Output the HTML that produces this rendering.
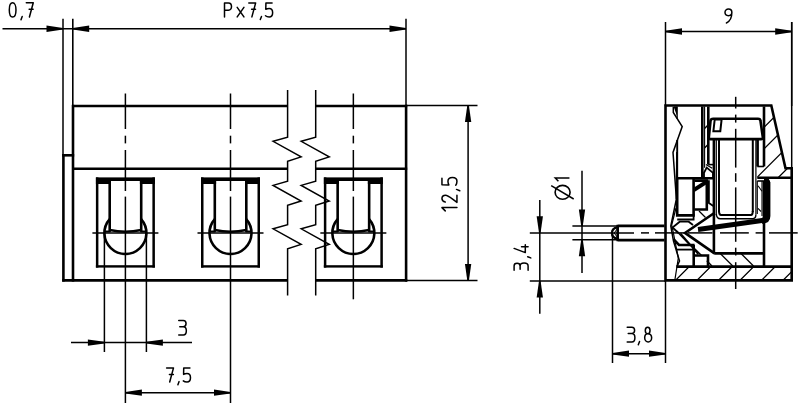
<!DOCTYPE html>
<html><head><meta charset="utf-8"><style>
html,body{margin:0;padding:0;background:#fff;width:800px;height:406px;overflow:hidden}
svg{display:block}
text{font-family:"Liberation Sans",sans-serif;fill:#000;stroke:none}
</style></head><body>
<svg width="800" height="406" viewBox="0 0 800 406" stroke="#000" stroke-linecap="butt" fill="none">
<line x1="2.5" y1="28.75" x2="406" y2="28.75" stroke-width="1.5"/>
<path d="M63.00,29.55 L46.50,31.90 L46.50,25.60 L63.00,27.95 Z" fill="#000" stroke="none"/>
<path d="M72.70,27.95 L89.20,25.60 L89.20,31.90 L72.70,29.55 Z" fill="#000" stroke="none"/>
<path d="M406.00,29.55 L389.50,31.90 L389.50,25.60 L406.00,27.95 Z" fill="#000" stroke="none"/>
<line x1="63" y1="18.75" x2="63" y2="155.3" stroke-width="1.5"/>
<line x1="72.8" y1="18.75" x2="72.8" y2="106" stroke-width="1.6"/>
<line x1="406" y1="18.75" x2="406" y2="106" stroke-width="1.5"/>
<path transform="translate(9.3,2.8000000000000007) scale(14.2)" d="M0.235,0 C0.37,0 0.47,0.2 0.47,0.5 C0.47,0.8 0.37,1 0.235,1 C0.1,1 0,0.8 0,0.5 C0,0.2 0.1,0 0.235,0 Z" stroke-width="1.5" vector-effect="non-scaling-stroke" stroke-linecap="round" stroke-linejoin="round"/>
<path transform="translate(21.0,2.8000000000000007) scale(14.2)" d="M0.085,0.97 L0,1.19" stroke-width="1.5" vector-effect="non-scaling-stroke" stroke-linecap="round" stroke-linejoin="round"/>
<path transform="translate(26.3,2.8000000000000007) scale(14.2)" d="M0,0 L0.49,0 L0.22,1 M0.2,0.46 L0.48,0.46" stroke-width="1.5" vector-effect="non-scaling-stroke" stroke-linecap="round" stroke-linejoin="round"/>
<path transform="translate(224.5,2.8999999999999986) scale(14.0)" d="M0,1 L0,0 L0.28,0 C0.43,0 0.5,0.12 0.5,0.26 C0.5,0.4 0.43,0.52 0.28,0.52 L0,0.52" stroke-width="1.5" vector-effect="non-scaling-stroke" stroke-linecap="round" stroke-linejoin="round"/>
<path transform="translate(237.2,2.8999999999999986) scale(14.0)" d="M0,0.32 L0.48,1 M0.48,0.32 L0,1" stroke-width="1.5" vector-effect="non-scaling-stroke" stroke-linecap="round" stroke-linejoin="round"/>
<path transform="translate(248.8,2.8999999999999986) scale(14.0)" d="M0,0 L0.49,0 L0.22,1 M0.2,0.46 L0.48,0.46" stroke-width="1.5" vector-effect="non-scaling-stroke" stroke-linecap="round" stroke-linejoin="round"/>
<path transform="translate(260.3,2.8999999999999986) scale(14.0)" d="M0.085,0.97 L0,1.19" stroke-width="1.5" vector-effect="non-scaling-stroke" stroke-linecap="round" stroke-linejoin="round"/>
<path transform="translate(265.5,2.8999999999999986) scale(14.0)" d="M0.47,0 L0.03,0 L0.02,0.46 C0.1,0.42 0.18,0.4 0.26,0.4 C0.42,0.4 0.51,0.52 0.51,0.7 C0.51,0.88 0.42,1 0.26,1 C0.15,1 0.06,0.97 0,0.92" stroke-width="1.5" vector-effect="non-scaling-stroke" stroke-linecap="round" stroke-linejoin="round"/>
<line x1="73" y1="106" x2="287.7" y2="106" stroke-width="2.6"/>
<line x1="315.7" y1="106" x2="407.2" y2="106" stroke-width="2.6"/>
<line x1="73" y1="168.7" x2="287.7" y2="168.7" stroke-width="2.6"/>
<line x1="315.7" y1="168.7" x2="407.2" y2="168.7" stroke-width="2.6"/>
<line x1="73" y1="104.8" x2="73" y2="281.6" stroke-width="2.6"/>
<line x1="406.1" y1="104.8" x2="406.1" y2="281.6" stroke-width="2.6"/>
<line x1="63.4" y1="154.1" x2="63.4" y2="281.6" stroke-width="2.6"/>
<line x1="62.2" y1="155.3" x2="74.2" y2="155.3" stroke-width="2.6"/>
<line x1="62.2" y1="280.4" x2="287.6" y2="280.4" stroke-width="2.6"/>
<line x1="315.6" y1="280.4" x2="407.2" y2="280.4" stroke-width="2.6"/>
<rect x="95.9" y="177.4" width="59.0" height="3.5999999999999943" fill="#000" stroke="none"/>
<rect x="95.9" y="181" width="15.099999999999994" height="3" fill="#000" stroke="none"/>
<rect x="139.9" y="181" width="15.0" height="3" fill="#000" stroke="none"/>
<rect x="95.9" y="177.4" width="2.5" height="90.20000000000002" fill="#000" stroke="none"/>
<rect x="152.4" y="177.4" width="2.5" height="90.20000000000002" fill="#000" stroke="none"/>
<rect x="95.9" y="265.2" width="59.0" height="2.400000000000034" fill="#000" stroke="none"/>
<rect x="108.4" y="181" width="2.5999999999999943" height="50.80000000000001" fill="#000" stroke="none"/>
<rect x="139.9" y="181" width="2.5999999999999943" height="50.80000000000001" fill="#000" stroke="none"/>
<path d="M109.7,230.1 Q125.4,233.3 141.20000000000002,230.1" stroke-width="2.6" fill="none" stroke="#000"/>
<path d="M104.5,231.6 L110.4,231.6 M140.4,231.6 L146.3,231.6" stroke-width="2.0" fill="none" stroke="#000"/>
<path d="M109.7,219.05 A21,21 0 1 0 141.1,219.05" stroke-width="2.6" fill="none" stroke="#000"/>
<line x1="92.4" y1="233" x2="158.4" y2="233" stroke-width="1.5"/>
<line x1="125.4" y1="93.5" x2="125.4" y2="129" stroke-width="1.5"/>
<line x1="125.4" y1="135.7" x2="125.4" y2="143.4" stroke-width="1.5"/>
<line x1="125.4" y1="150" x2="125.4" y2="191" stroke-width="1.5"/>
<rect x="201.0" y="177.4" width="59.0" height="3.5999999999999943" fill="#000" stroke="none"/>
<rect x="201.0" y="181" width="15.099999999999994" height="3" fill="#000" stroke="none"/>
<rect x="245.0" y="181" width="15.0" height="3" fill="#000" stroke="none"/>
<rect x="201.0" y="177.4" width="2.5" height="90.20000000000002" fill="#000" stroke="none"/>
<rect x="257.5" y="177.4" width="2.5" height="90.20000000000002" fill="#000" stroke="none"/>
<rect x="201.0" y="265.2" width="59.0" height="2.400000000000034" fill="#000" stroke="none"/>
<rect x="213.5" y="181" width="2.5999999999999943" height="50.80000000000001" fill="#000" stroke="none"/>
<rect x="245.0" y="181" width="2.5999999999999943" height="50.80000000000001" fill="#000" stroke="none"/>
<path d="M214.8,230.1 Q230.5,233.3 246.3,230.1" stroke-width="2.6" fill="none" stroke="#000"/>
<path d="M209.6,231.6 L215.5,231.6 M245.5,231.6 L251.4,231.6" stroke-width="2.0" fill="none" stroke="#000"/>
<path d="M214.8,219.05 A21,21 0 1 0 246.2,219.05" stroke-width="2.6" fill="none" stroke="#000"/>
<line x1="197.5" y1="233" x2="263.5" y2="233" stroke-width="1.5"/>
<line x1="230.5" y1="93.5" x2="230.5" y2="129" stroke-width="1.5"/>
<line x1="230.5" y1="135.7" x2="230.5" y2="143.4" stroke-width="1.5"/>
<line x1="230.5" y1="150" x2="230.5" y2="191" stroke-width="1.5"/>
<rect x="323.85" y="177.4" width="59.0" height="3.5999999999999943" fill="#000" stroke="none"/>
<rect x="323.85" y="181" width="15.100000000000023" height="3" fill="#000" stroke="none"/>
<rect x="367.85" y="181" width="15.0" height="3" fill="#000" stroke="none"/>
<rect x="323.85" y="177.4" width="2.5" height="90.20000000000002" fill="#000" stroke="none"/>
<rect x="380.35" y="177.4" width="2.5" height="90.20000000000002" fill="#000" stroke="none"/>
<rect x="323.85" y="265.2" width="59.0" height="2.400000000000034" fill="#000" stroke="none"/>
<rect x="336.35" y="181" width="2.6000000000000227" height="50.80000000000001" fill="#000" stroke="none"/>
<rect x="367.85" y="181" width="2.6000000000000227" height="50.80000000000001" fill="#000" stroke="none"/>
<path d="M337.65000000000003,230.1 Q353.35,233.3 369.15000000000003,230.1" stroke-width="2.6" fill="none" stroke="#000"/>
<path d="M332.45000000000005,231.6 L338.35,231.6 M368.35,231.6 L374.25,231.6" stroke-width="2.0" fill="none" stroke="#000"/>
<path d="M337.65000000000003,219.05 A21,21 0 1 0 369.05,219.05" stroke-width="2.6" fill="none" stroke="#000"/>
<line x1="320.35" y1="233" x2="386.35" y2="233" stroke-width="1.5"/>
<line x1="353.35" y1="93.5" x2="353.35" y2="129" stroke-width="1.5"/>
<line x1="353.35" y1="135.7" x2="353.35" y2="143.4" stroke-width="1.5"/>
<line x1="353.35" y1="150" x2="353.35" y2="191" stroke-width="1.5"/>
<line x1="125.4" y1="196.6" x2="125.4" y2="403" stroke-width="1.5"/>
<line x1="230.5" y1="196.6" x2="230.5" y2="403" stroke-width="1.5"/>
<line x1="353.35" y1="196.6" x2="353.35" y2="299.3" stroke-width="1.5"/>
<line x1="104.4" y1="233" x2="104.4" y2="352" stroke-width="1.5"/>
<line x1="146.4" y1="233" x2="146.4" y2="352" stroke-width="1.5"/>
<path d="M287.6,90 L287.6,137.1 L273.1,141.29999999999998 L301.1,156.9 L287.6,161.29999999999998 L287.6,181.2 L273.1,185.39999999999998 L301.1,201.0 L287.6,205.39999999999998 L287.6,224.6 L273.1,228.79999999999998 L301.1,244.4 L287.6,248.79999999999998 L287.6,295.5" stroke-width="1.5" fill="none"/>
<path d="M315.7,90 L315.7,137.1 L301.2,141.29999999999998 L329.2,156.9 L315.7,161.29999999999998 L315.7,181.2 L301.2,185.39999999999998 L329.2,201.0 L315.7,205.39999999999998 L315.7,224.6 L301.2,228.79999999999998 L329.2,244.4 L315.7,248.79999999999998 L315.7,295.5" stroke-width="1.5" fill="none"/>
<line x1="71" y1="342.6" x2="192" y2="342.6" stroke-width="1.5"/>
<path d="M104.40,343.40 L87.90,345.75 L87.90,339.45 L104.40,341.80 Z" fill="#000" stroke="none"/>
<path d="M146.40,341.80 L162.90,339.45 L162.90,345.75 L146.40,343.40 Z" fill="#000" stroke="none"/>
<path transform="translate(178.75,320.45) scale(14.6)" d="M0,0 L0.31,0 C0.43,0 0.5,0.1 0.5,0.21 C0.5,0.34 0.43,0.43 0.31,0.43 L0.07,0.43 M0.31,0.43 C0.45,0.43 0.52,0.55 0.52,0.71 C0.52,0.88 0.44,1 0.31,1 L0,1" stroke-width="1.5" vector-effect="non-scaling-stroke" stroke-linecap="round" stroke-linejoin="round"/>
<line x1="125.4" y1="392.7" x2="230.5" y2="392.7" stroke-width="1.5"/>
<path d="M125.40,391.90 L141.90,389.55 L141.90,395.85 L125.40,393.50 Z" fill="#000" stroke="none"/>
<path d="M230.50,393.50 L214.00,395.85 L214.00,389.55 L230.50,391.90 Z" fill="#000" stroke="none"/>
<path transform="translate(166.6,367.9) scale(14.1)" d="M0,0 L0.49,0 L0.22,1 M0.2,0.46 L0.48,0.46" stroke-width="1.5" vector-effect="non-scaling-stroke" stroke-linecap="round" stroke-linejoin="round"/>
<path transform="translate(177.9,367.9) scale(14.1)" d="M0.085,0.97 L0,1.19" stroke-width="1.5" vector-effect="non-scaling-stroke" stroke-linecap="round" stroke-linejoin="round"/>
<path transform="translate(183.3,367.9) scale(14.1)" d="M0.47,0 L0.03,0 L0.02,0.46 C0.1,0.42 0.18,0.4 0.26,0.4 C0.42,0.4 0.51,0.52 0.51,0.7 C0.51,0.88 0.42,1 0.26,1 C0.15,1 0.06,0.97 0,0.92" stroke-width="1.5" vector-effect="non-scaling-stroke" stroke-linecap="round" stroke-linejoin="round"/>
<line x1="406" y1="105.6" x2="477.5" y2="105.6" stroke-width="1.5"/>
<line x1="406" y1="280.4" x2="477.5" y2="280.4" stroke-width="1.5"/>
<line x1="468.1" y1="105.6" x2="468.1" y2="280.4" stroke-width="1.5"/>
<path d="M468.90,105.60 L471.25,122.10 L464.95,122.10 L467.30,105.60 Z" fill="#000" stroke="none"/>
<path d="M467.30,280.40 L464.95,263.90 L471.25,263.90 L468.90,280.40 Z" fill="#000" stroke="none"/>
<path transform="translate(456.95,211) rotate(-90) translate(0.1,-15.0) scale(15.0)" d="M0,0.22 L0.22,0 L0.22,1" stroke-width="1.5" vector-effect="non-scaling-stroke" stroke-linecap="round" stroke-linejoin="round"/>
<path transform="translate(456.95,211) rotate(-90) translate(8.65,-15.0) scale(15.0)" d="M0.02,0.22 C0.04,0.08 0.14,0 0.25,0 C0.38,0 0.47,0.1 0.47,0.24 C0.47,0.4 0.36,0.5 0,1 L0.48,1" stroke-width="1.5" vector-effect="non-scaling-stroke" stroke-linecap="round" stroke-linejoin="round"/>
<path transform="translate(456.95,211) rotate(-90) translate(20.3,-15.0) scale(15.0)" d="M0.085,0.97 L0,1.19" stroke-width="1.5" vector-effect="non-scaling-stroke" stroke-linecap="round" stroke-linejoin="round"/>
<path transform="translate(456.95,211) rotate(-90) translate(25.75,-15.0) scale(15.0)" d="M0.47,0 L0.03,0 L0.02,0.46 C0.1,0.42 0.18,0.4 0.26,0.4 C0.42,0.4 0.51,0.52 0.51,0.7 C0.51,0.88 0.42,1 0.26,1 C0.15,1 0.06,0.97 0,0.92" stroke-width="1.5" vector-effect="non-scaling-stroke" stroke-linecap="round" stroke-linejoin="round"/>
<line x1="665.5" y1="22" x2="665.5" y2="106" stroke-width="1.5"/>
<line x1="791.7" y1="22" x2="791.7" y2="106" stroke-width="1.5"/>
<line x1="665.5" y1="31.5" x2="791.7" y2="31.5" stroke-width="1.5"/>
<path d="M665.50,30.70 L682.00,28.35 L682.00,34.65 L665.50,32.30 Z" fill="#000" stroke="none"/>
<path d="M791.70,32.30 L775.20,34.65 L775.20,28.35 L791.70,30.70 Z" fill="#000" stroke="none"/>
<path transform="translate(725,9.0) scale(14.0)" d="M0.245,0 C0.38,0 0.49,0.1 0.49,0.24 C0.49,0.38 0.38,0.48 0.245,0.48 C0.11,0.48 0,0.38 0,0.24 C0,0.1 0.11,0 0.245,0 Z M0.49,0.24 C0.49,0.62 0.38,0.88 0.1,1" stroke-width="1.5" vector-effect="non-scaling-stroke" stroke-linecap="round" stroke-linejoin="round"/>
<line x1="539.8" y1="200" x2="539.8" y2="313.8" stroke-width="1.5"/>
<path d="M539.00,232.80 L536.65,216.30 L542.95,216.30 L540.60,232.80 Z" fill="#000" stroke="none"/>
<path d="M540.60,281.00 L542.95,297.50 L536.65,297.50 L539.00,281.00 Z" fill="#000" stroke="none"/>
<line x1="529.8" y1="281" x2="665.5" y2="281" stroke-width="1.5"/>
<path transform="translate(528.1,270.3) rotate(-90) translate(0,-14.0) scale(14.0)" d="M0,0 L0.31,0 C0.43,0 0.5,0.1 0.5,0.21 C0.5,0.34 0.43,0.43 0.31,0.43 L0.07,0.43 M0.31,0.43 C0.45,0.43 0.52,0.55 0.52,0.71 C0.52,0.88 0.44,1 0.31,1 L0,1" stroke-width="1.5" vector-effect="non-scaling-stroke" stroke-linecap="round" stroke-linejoin="round"/>
<path transform="translate(528.1,270.3) rotate(-90) translate(12.4,-14.0) scale(14.0)" d="M0.085,0.97 L0,1.19" stroke-width="1.5" vector-effect="non-scaling-stroke" stroke-linecap="round" stroke-linejoin="round"/>
<path transform="translate(528.1,270.3) rotate(-90) translate(17.7,-14.0) scale(14.0)" d="M0.3,0 L0,0.8 L0.56,0.8 M0.41,0.53 L0.41,1" stroke-width="1.5" vector-effect="non-scaling-stroke" stroke-linecap="round" stroke-linejoin="round"/>
<line x1="582" y1="170.7" x2="582" y2="273.1" stroke-width="1.5"/>
<path d="M581.20,225.90 L578.85,209.40 L585.15,209.40 L582.80,225.90 Z" fill="#000" stroke="none"/>
<path d="M582.80,239.70 L585.15,256.20 L578.85,256.20 L581.20,239.70 Z" fill="#000" stroke="none"/>
<line x1="572.4" y1="225.9" x2="617" y2="225.9" stroke-width="1.5"/>
<line x1="572.4" y1="239.7" x2="617" y2="239.7" stroke-width="1.5"/>
<ellipse cx="562.6" cy="192.3" rx="7.5" ry="6.95" stroke-width="1.6"/>
<line x1="551.2" y1="185.7" x2="573.7" y2="199" stroke-width="1.5"/>
<path d="M558.4,181.2 L555.25,177.9 L569.45,177.9" stroke-width="1.5" fill="none" stroke="#000"/>
<line x1="612.5" y1="233" x2="612.5" y2="363" stroke-width="1.5"/>
<line x1="665.5" y1="281" x2="665.5" y2="363" stroke-width="1.5"/>
<line x1="612.5" y1="353.7" x2="665.5" y2="353.7" stroke-width="1.5"/>
<path d="M612.50,352.90 L629.00,350.55 L629.00,356.85 L612.50,354.50 Z" fill="#000" stroke="none"/>
<path d="M665.50,354.50 L649.00,356.85 L649.00,350.55 L665.50,352.90 Z" fill="#000" stroke="none"/>
<path transform="translate(627.2,327.2) scale(14.8)" d="M0,0 L0.31,0 C0.43,0 0.5,0.1 0.5,0.21 C0.5,0.34 0.43,0.43 0.31,0.43 L0.07,0.43 M0.31,0.43 C0.45,0.43 0.52,0.55 0.52,0.71 C0.52,0.88 0.44,1 0.31,1 L0,1" stroke-width="1.5" vector-effect="non-scaling-stroke" stroke-linecap="round" stroke-linejoin="round"/>
<path transform="translate(638.3,327.2) scale(14.8)" d="M0.085,0.97 L0,1.19" stroke-width="1.5" vector-effect="non-scaling-stroke" stroke-linecap="round" stroke-linejoin="round"/>
<path transform="translate(644.7,327.2) scale(14.8)" d="M0.2,0 C0.3,0 0.36,0.1 0.36,0.22 C0.36,0.34 0.3,0.44 0.2,0.44 C0.1,0.44 0.04,0.34 0.04,0.22 C0.04,0.1 0.1,0 0.2,0 Z M0.2,0.44 C0.36,0.44 0.47,0.56 0.47,0.72 C0.47,0.88 0.36,1 0.235,1 C0.11,1 0,0.88 0,0.72 C0,0.56 0.08,0.44 0.2,0.44 Z" stroke-width="1.5" vector-effect="non-scaling-stroke" stroke-linecap="round" stroke-linejoin="round"/>
<clipPath id="h1"><polygon points="764,106.5 771,106.5 785.5,168.3 791.7,168.3 791.7,177.8 757.3,177.8 757.3,166.5 764,166.5"/></clipPath>
<path clip-path="url(#h1)" d="M483.79999999999995,300 L703.8,80 M505.29999999999995,300 L725.3,80 M526.8,300 L746.8,80 M548.3,300 L768.3,80 M569.8,300 L789.8,80 M591.3,300 L811.3,80 M612.8,300 L832.8,80 M634.3,300 L854.3,80 M655.8,300 L875.8,80 M677.3,300 L897.3,80 M698.8,300 L918.8,80 M720.3,300 L940.3,80 M741.8,300 L961.8,80 M763.3,300 L983.3,80 M784.8,300 L1004.8,80" stroke-width="1.3"/>
<clipPath id="h2"><polygon points="704.6,106.5 708.3,106.5 708.3,164.6 704.6,164.6"/></clipPath>
<path clip-path="url(#h2)" d="M533,300 L753,80 M552.5,300 L772.5,80" stroke-width="1.3"/>
<clipPath id="h3"><polygon points="677.3,266.6 791.7,266.6 791.7,280.4 674.8,280.4"/></clipPath>
<path clip-path="url(#h3)" d="M483.79999999999995,300 L703.8,80 M505.29999999999995,300 L725.3,80 M526.8,300 L746.8,80 M548.3,300 L768.3,80 M569.8,300 L789.8,80 M591.3,300 L811.3,80 M612.8,300 L832.8,80 M634.3,300 L854.3,80 M655.8,300 L875.8,80 M677.3,300 L897.3,80 M698.8,300 L918.8,80 M720.3,300 L940.3,80 M741.8,300 L961.8,80 M763.3,300 L983.3,80 M784.8,300 L1004.8,80" stroke-width="1.3"/>
<line x1="694.5" y1="248.5" x2="701.8" y2="255.8" stroke-width="1.3"/>
<line x1="706.8" y1="260.8" x2="712" y2="266" stroke-width="1.3"/>
<line x1="720.25" y1="253.5" x2="732.75" y2="266" stroke-width="1.3"/>
<line x1="741" y1="253.5" x2="753.5" y2="266" stroke-width="1.3"/>
<line x1="699" y1="211" x2="705.5" y2="217.5" stroke-width="1.3"/>
<path d="M665.5,105.5 L771.3,105.5 L785.5,168.3 L791.7,168.3 L791.7,280.4 L665.5,280.4 Z" stroke-width="2.6" fill="none"/>
<line x1="791.7" y1="22" x2="791.7" y2="168.3" stroke-width="1.5"/>
<path d="M673.3,107 L673.3,112.5 L682.2,126.6 L673,152.4 L676.4,199 L670.8,226 L673.5,241 L679.5,261 L677.3,266" stroke-width="1.5" fill="none"/>
<path d="M676.8,152 L676.4,199" stroke-width="1.5" fill="none"/>
<path d="M673.6,106.5 L677.2,106.5 L677,116 Z" stroke-width="0" fill="#000" stroke="#000"/>
<line x1="677.2" y1="106.5" x2="677.2" y2="119" stroke-width="1.2"/>
<line x1="677.2" y1="140" x2="677.2" y2="178.5" stroke-width="1.9"/>
<path d="M676,208 L671.7,225.2 L672.8,230 L678.3,258 L674.8,280.4" stroke-width="1.2" fill="none"/>
<path d="M677.2,178.2 L677.2,215.4 L693.6,215.4 L693.6,178.2" stroke-width="2.6" fill="none"/>
<line x1="676" y1="178.2" x2="714" y2="178.2" stroke-width="2.6"/>
<path d="M677.2,219.5 L693.6,219.5 L693.6,214" stroke-width="1.8" fill="none"/>
<path d="M694.5,180.6 L706.8,180.6 L706.8,209.5 L694.5,209.5" stroke-width="2.6" fill="none"/>
<path d="M694.4,187.3 L706.6,179.6 L706.6,184.2 L694.4,192 Z" stroke-width="0" fill="#000" stroke="#000"/>
<path d="M706.8,181.1 L708.9,181.1 L708.9,203 L713.3,206" stroke-width="1.8" fill="none"/>
<line x1="702.3" y1="106.5" x2="702.3" y2="177.8" stroke-width="2.6"/>
<line x1="704.6" y1="106.5" x2="704.6" y2="167.8" stroke-width="1.1"/>
<line x1="708.3" y1="106.5" x2="708.3" y2="164.6" stroke-width="2.6"/>
<line x1="708.3" y1="164.6" x2="714" y2="164.6" stroke-width="1.6"/>
<path d="M704,177.8 L704,172.8 L706.7,167.6 L713,172.8 L713,177.8" stroke-width="1.8" fill="none"/>
<line x1="705.9" y1="164.6" x2="712.2" y2="168.2" stroke-width="1.2"/>
<path d="M710.6,139.1 Q708.7,139.1 708.9,137 L710.5,121 Q710.8,118.7 713.2,118.7 L758,118.7 Q760.3,118.7 760.5,121 L762.8,137 Q763,139.1 761,139.1 Z" stroke-width="2.6" fill="none" stroke="#000"/>
<path d="M714.7,119.5 L721.6,119.5 L720.3,131.2 L713.4,131.2 Z" stroke-width="2.0" fill="none" stroke="#000"/>
<line x1="713.9" y1="139" x2="713.9" y2="253.4" stroke-width="2.6"/>
<line x1="716.3" y1="139" x2="716.3" y2="215" stroke-width="1.2"/>
<line x1="719" y1="139" x2="719" y2="212" stroke-width="2.0"/>
<line x1="752.8" y1="139" x2="752.8" y2="212" stroke-width="2.0"/>
<line x1="755.9" y1="139" x2="755.9" y2="214.6" stroke-width="1.2"/>
<line x1="757.6" y1="139" x2="757.6" y2="166.5" stroke-width="2.6"/>
<path d="M719,211 Q719,215.1 721,215.1 L751,215.1 Q752.8,215.1 752.8,211" stroke-width="2.0" fill="none" stroke="#000"/>
<path d="M716.3,214 Q716.5,218.8 720.5,218.8 L752.5,218.8 Q755.9,218.8 755.9,214.6" stroke-width="1.4" fill="none" stroke="#000"/>
<line x1="764" y1="106.5" x2="764" y2="166.5" stroke-width="2.6"/>
<line x1="764" y1="181" x2="764" y2="266.5" stroke-width="2.6"/>
<line x1="757.3" y1="166.5" x2="764" y2="166.5" stroke-width="1.6"/>
<line x1="757.3" y1="177.8" x2="791.7" y2="177.8" stroke-width="2.6"/>
<line x1="757.3" y1="181" x2="766" y2="181" stroke-width="1.6"/>
<line x1="757.3" y1="181" x2="757.3" y2="214" stroke-width="1.1"/>
<line x1="762" y1="181" x2="762" y2="216" stroke-width="1.1"/>
<line x1="758" y1="185.7" x2="762" y2="191.2" stroke-width="1.1"/>
<line x1="758" y1="208.4" x2="761" y2="211.5" stroke-width="1.1"/>
<path d="M767.4,184 Q767.4,180.3 764,180.3 M767.4,182 L767.4,216 Q767.4,220.4 762,220.9" stroke-width="6" fill="none" stroke="#000"/>
<path d="M764,220.3 L698,229.6" stroke-width="5" fill="none" stroke="#000"/>
<path d="M713.9,213.2 L685,232.9 L714.5,253.4" stroke-width="2.6" fill="none"/>
<path d="M693,225 L688.7,221.7 L679.7,221.7 L672.5,227.5 L678.5,233" stroke-width="1.8" fill="none"/>
<line x1="676.3" y1="230.7" x2="689.4" y2="244.5" stroke-width="1.4"/>
<line x1="680.4" y1="233.4" x2="698.3" y2="254.1" stroke-width="1.8"/>
<path d="M673.9,239.7 L679,245 L694.6,245" stroke-width="2.6" fill="none"/>
<line x1="676.3" y1="249.6" x2="693.6" y2="249.6" stroke-width="1.8"/>
<line x1="693.7" y1="245" x2="693.7" y2="266.5" stroke-width="2.6"/>
<path d="M693.7,255.5 L708,255.5 L708,266.5" stroke-width="2.6" fill="none"/>
<line x1="714.2" y1="253.4" x2="764" y2="253.4" stroke-width="2.6"/>
<line x1="676.3" y1="266.6" x2="791.7" y2="266.6" stroke-width="2.6"/>
<path d="M617.7,225.9 L664.5,225.9 M617.7,240.1 L664.5,240.1 M617.7,224.7 L617.7,241.3" stroke-width="2.6" fill="none" stroke="#000"/>
<path d="M617.5,227.3 Q611.8,228.3 612,233 Q611.8,237.7 617.5,238.7" stroke-width="2.2" fill="none" stroke="#000"/>
<path d="M617.5,228.5 L614.2,233 L617.5,237.5" stroke-width="1" fill="none" stroke="#000"/>
<line x1="529.8" y1="232.9" x2="634" y2="232.9" stroke-width="1.5"/>
<line x1="641" y1="232.9" x2="649" y2="232.9" stroke-width="1.5"/>
<line x1="655" y1="232.9" x2="684" y2="232.9" stroke-width="1.5"/>
<line x1="688" y1="232.9" x2="712.5" y2="232.9" stroke-width="1.5"/>
<line x1="720" y1="232.9" x2="748.8" y2="232.9" stroke-width="1.5"/>
<line x1="755.6" y1="232.9" x2="762.9" y2="232.9" stroke-width="1.5"/>
<line x1="769" y1="232.9" x2="797.7" y2="232.9" stroke-width="1.5"/>
<line x1="735.7" y1="96.8" x2="735.7" y2="108.5" stroke-width="1.5"/>
<line x1="735.7" y1="114.6" x2="735.7" y2="122.6" stroke-width="1.5"/>
<line x1="735.7" y1="128.8" x2="735.7" y2="167.6" stroke-width="1.5"/>
<line x1="735.7" y1="173.2" x2="735.7" y2="181.8" stroke-width="1.5"/>
<line x1="735.7" y1="187.4" x2="735.7" y2="241.8" stroke-width="1.5"/>
<line x1="735.7" y1="247.7" x2="735.7" y2="255.5" stroke-width="1.5"/>
<line x1="735.7" y1="262.2" x2="735.7" y2="289" stroke-width="1.5"/>
</svg>
</body></html>
